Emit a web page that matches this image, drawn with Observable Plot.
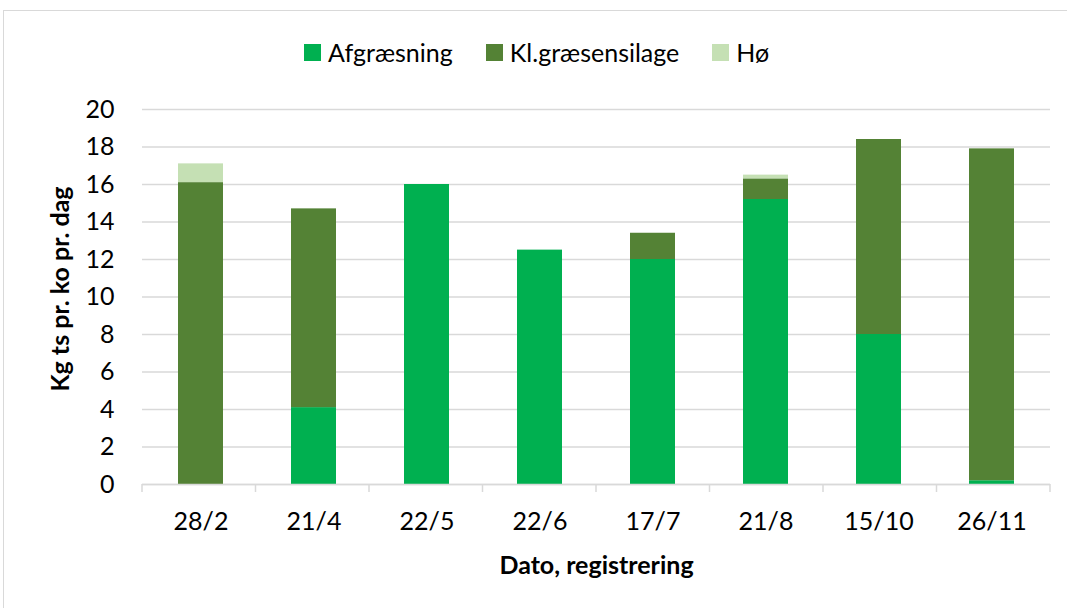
<!DOCTYPE html>
<html>
<head>
<meta charset="utf-8">
<script src="https://cdn.jsdelivr.net/npm/d3@7"></script>
<script src="https://cdn.jsdelivr.net/npm/@observablehq/plot@0.6"></script>
<style>
  html, body { margin: 0; padding: 0; background: #ffffff; overflow: hidden; }
  body { width: 1067px; height: 608px; position: relative; font-family: Lato, "Open Sans", sans-serif; }
  #frame { position: absolute; left: 3px; top: 10px; width: 1100px; height: 640px; border: 1px solid #d9d9d9; box-sizing: border-box; pointer-events: none; }
  #legend { position: relative; height: 80px; }
  #legend .items { position: absolute; left: 304px; top: 38px; display: flex; align-items: center; font-size: 25px; color: #000; line-height: 28px; }
  #legend .item { display: flex; align-items: center; margin-right: 33px; }
  #legend .swatch { width: 17px; height: 17px; margin-right: 7px; }
  #chart { position: relative; }
</style>
</head>
<body>
<div id="frame"></div>
<div id="legend"><div class="items"></div></div>
<div id="chart"></div>
<script>
// ---- data ----
const dates = ["28/2", "21/4", "22/5", "22/6", "17/7", "21/8", "15/10", "26/11"];
const seriesNames = ["Afgræsning", "Kl.græsensilage", "Hø"];
const afgraesning = [0, 4.1, 16.0, 12.5, 12.0, 15.2, 8.0, 0.2];
const klgraesensilage = [16.1, 10.6, 0, 0, 1.4, 1.1, 10.4, 17.7];
const hoe = [1.0, 0, 0, 0, 0, 0.2, 0, 0];
const seriesColors = ["#00b050", "#548235", "#c5e0b4"];
const yTicks = [0, 2, 4, 6, 8, 10, 12, 14, 16, 18, 20];
const xTitle = "Dato, registrering";
const yTitle = "Kg ts pr. ko pr. dag";

const seriesValues = [afgraesning, klgraesensilage, hoe];
const rows = [];
seriesNames.forEach((s, si) => {
  dates.forEach((d, di) => rows.push({date: d, series: s, value: seriesValues[si][di]}));
});

// legend
const legendItems = d3.select("#legend .items");
seriesNames.forEach((s, i) => {
  const it = legendItems.append("div").attr("class", "item");
  it.append("div").attr("class", "swatch").style("background", seriesColors[i]);
  it.append("span").text(s);
});

// category boundary ticks below the axis
function categoryTicks(index, scales, values, dimensions) {
  const {width, marginLeft, marginRight} = dimensions;
  const step = (width - marginLeft - marginRight) / dates.length;
  const y0 = scales.y(0);
  const g = d3.create("svg:g").attr("stroke", "#d9d9d9").attr("stroke-width", 1.5);
  d3.range(dates.length + 1).forEach(i => {
    const x = marginLeft + i * step;
    g.append("line").attr("x1", x).attr("x2", x).attr("y1", y0).attr("y2", y0 + 8);
  });
  return g.node();
}

const chart = Plot.plot({
  width: 1067,
  height: 528,
  marginTop: 29,
  marginBottom: 124,
  marginLeft: 142,
  marginRight: 17,
  style: {fontFamily: "Lato, 'Open Sans', sans-serif", fontSize: "25px", color: "#000", background: "transparent"},
  x: {type: "band", domain: dates, paddingInner: 0.6, paddingOuter: 0.3, label: null},
  y: {domain: [0, 20], label: null},
  color: {domain: seriesNames, range: seriesColors},
  marks: [
    Plot.gridY(yTicks, {stroke: "#d9d9d9", strokeOpacity: 1, strokeWidth: 1.5}),
    Plot.barY(rows, {x: "date", y: "value", fill: "series", inset: 0}),
    Plot.ruleY([0], {stroke: "#d9d9d9", strokeWidth: 1.5}),
    categoryTicks,
    Plot.axisY(yTicks, {tickSize: 0, tickPadding: 28, label: null, fontSize: 25}),
    Plot.axisX({tickSize: 0, tickPadding: 28, label: null, fontSize: 25}),
    Plot.text([xTitle], {frameAnchor: "bottom", dy: 89, fontWeight: "bold", fontSize: 25, fill: "#000"}),
    Plot.text([yTitle], {frameAnchor: "left", textAnchor: "middle", dx: -82, dy: -8, rotate: -90, fontWeight: "bold", fontSize: 25, fill: "#000"})
  ]
});
document.getElementById("chart").appendChild(chart);
</script>
</body>
</html>
